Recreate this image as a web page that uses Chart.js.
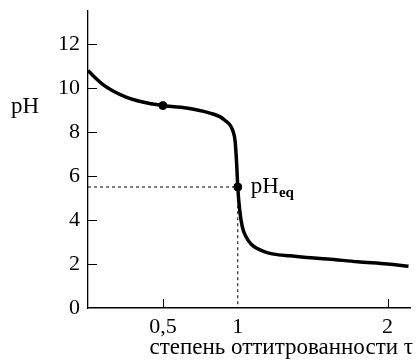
<!DOCTYPE html>
<html>
<head>
<meta charset="utf-8">
<script src="https://cdn.jsdelivr.net/npm/chart.js@4/dist/chart.umd.min.js"></script>
<style>
  html, body { margin: 0; padding: 0; background: #fff; overflow: hidden; }
  #wrap { width: 420px; height: 360px; }
  canvas { display: block; }
</style>
</head>
<body>
<div id="wrap"><canvas id="titr" width="420" height="360"></canvas></div>
<script>
// кривая титрования: степень оттитрованности и pH
const tau = [0, 0.05, 0.1, 0.17, 0.25, 0.33, 0.42, 0.5, 0.62, 0.73, 0.82, 0.88, 0.92, 0.95, 0.97, 0.982, 0.993, 1.0, 1.012, 1.03, 1.055, 1.09, 1.13, 1.18, 1.24, 1.35, 1.46, 1.6, 1.8, 2.0, 2.14];
const pH  = [10.8, 10.45, 10.15, 9.85, 9.6, 9.42, 9.28, 9.2, 9.12, 9.0, 8.85, 8.7, 8.5, 8.3, 8.0, 7.6, 6.5, 5.5, 4.5, 3.7, 3.24, 2.9, 2.7, 2.55, 2.45, 2.37, 2.3, 2.23, 2.1, 2.0, 1.9];

// отмеченные точки: полуоттитрованность и точка эквивалентности
const markTau = [0.5, 1];
const markPH  = [9.2, 5.5];
const eqTau = 1;
const eqPH = 5.5;

const yTicks = [0, 2, 4, 6, 8, 10, 12];
const xTicks = [0.5, 1, 2];
const xTickLabels = { 0.5: '0,5', 1: '1', 2: '2' };
const xMarks = [0.5, 2];      // короткие засечки на оси абсцисс
const yMarks = [2, 4, 6, 8, 10, 12];

const serif = '"Liberation Serif", "DejaVu Serif", serif';

const curve = tau.map((t, i) => ({ x: t, y: pH[i] }));
const marks = markTau.map((t, i) => ({ x: t, y: markPH[i] }));
const guide = [{ x: 0, y: eqPH }, { x: eqTau, y: eqPH }, { x: eqTau, y: 0 }];

const extras = {
    id: 'extras',
    afterDraw(chart) {
        const ctx = chart.ctx;
        const xs = chart.scales.x, ys = chart.scales.y;
        const x0 = xs.getPixelForValue(0), y0 = ys.getPixelForValue(0);
        ctx.save();
        ctx.strokeStyle = '#000';
        ctx.lineWidth = 1;
        yMarks.forEach(v => {
            const y = Math.round(ys.getPixelForValue(v)) + 0.5;
            ctx.beginPath();
            ctx.moveTo(x0, y);
            ctx.lineTo(x0 + 9, y);
            ctx.stroke();
        });
        xMarks.forEach(v => {
            const x = Math.round(xs.getPixelForValue(v)) + 0.5;
            ctx.beginPath();
            ctx.moveTo(x, y0);
            ctx.lineTo(x, y0 - 9);
            ctx.stroke();
        });

        ctx.fillStyle = '#000';
        ctx.textBaseline = 'alphabetic';
        ctx.font = '23px ' + serif;
        ctx.textAlign = 'left';
        ctx.fillText('pH', 11, 113);

        // подпись точки эквивалентности
        const px = xs.getPixelForValue(eqTau) + 13;
        const py = ys.getPixelForValue(eqPH) + 6;
        ctx.fillText('pH', px, py);
        const w = ctx.measureText('pH').width;
        ctx.font = 'bold 15px ' + serif;
        ctx.fillText('eq', px + w, py + 4);

        // подпись оси абсцисс
        ctx.font = '23px ' + serif;
        ctx.textAlign = 'right';
        ctx.fillText('степень оттитрованности τ', 413, 354);
        ctx.restore();
    }
};

new Chart(document.getElementById('titr'), {
    type: 'line',
    data: {
        datasets: [
            {
                data: guide,
                borderColor: '#000',
                borderWidth: 1,
                borderDash: [3, 3],
                pointRadius: 0,
                tension: 0
            },
            {
                data: curve,
                borderColor: '#000',
                borderWidth: 3.5,
                pointRadius: 0,
                cubicInterpolationMode: 'monotone'
            },
            {
                data: marks,
                showLine: false,
                pointRadius: 4,
                pointBackgroundColor: '#000',
                pointBorderColor: '#000'
            }
        ]
    },
    options: {
        responsive: false,
        animation: false,
        layout: { padding: { top: 11, right: 10, left: 0, bottom: 0 } },
        plugins: { legend: { display: false }, tooltip: { enabled: false } },
        scales: {
            x: {
                type: 'linear',
                min: 0,
                max: 2.15,
                afterBuildTicks: scale => { scale.ticks = xTicks.map(v => ({ value: v })); },
                afterFit: scale => {
                    scale.height = 52;
                    scale.paddingLeft = 0;
                    scale.paddingRight = 0;
                },
                grid: { display: false, drawTicks: false },
                border: { display: true, color: '#000', width: 1.5 },
                ticks: {
                    color: '#000',
                    padding: 6,
                    maxRotation: 0,
                    autoSkip: false,
                    font: { family: serif, size: 22 },
                    callback: v => xTickLabels[v] ?? ''
                }
            },
            y: {
                min: 0,
                max: 13.5,
                afterBuildTicks: scale => { scale.ticks = yTicks.map(v => ({ value: v })); },
                afterFit: scale => {
                    scale.width = 88;
                    scale.paddingTop = 0;
                    scale.paddingBottom = 0;
                },
                grid: { display: false, drawTicks: false },
                border: { display: true, color: '#000', width: 1.3 },
                ticks: {
                    color: '#000',
                    padding: 8,
                    autoSkip: false,
                    font: { family: serif, size: 22 }
                }
            }
        }
    },
    plugins: [extras]
});
</script>
</body>
</html>
